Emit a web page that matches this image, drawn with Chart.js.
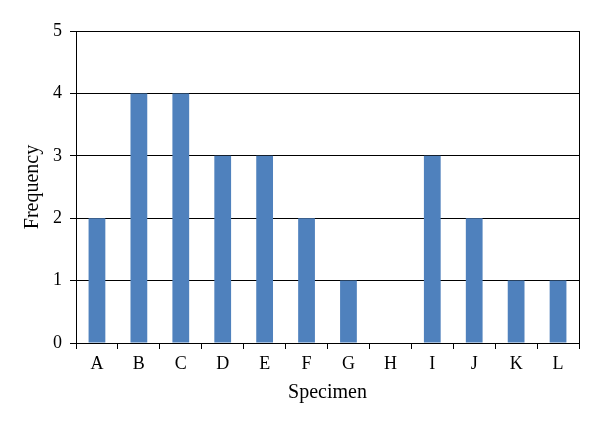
<!DOCTYPE html>
<html>
<head>
<meta charset="utf-8">
<script src="https://cdn.jsdelivr.net/npm/chart.js@4"></script>
<style>
  html, body { margin: 0; padding: 0; background: #fff; }
  #wrap { width: 600px; height: 425px; }
</style>
</head>
<body>
<div id="wrap"><canvas id="plot" width="600" height="425"></canvas></div>
<script>
const specimens = ["A", "B", "C", "D", "E", "F", "G", "H", "I", "J", "K", "L"];
const frequency = [2, 4, 4, 3, 3, 2, 1, 0, 3, 2, 1, 1];
const yTicks = [0, 1, 2, 3, 4, 5];

const serif = "'Liberation Serif', 'DejaVu Serif', serif";

// draws the right-hand frame line of the plot area
const rightBorderPlugin = {
  id: "right_border",
  afterDraw: (chart) => {
    const a = chart.chartArea;
    const ctx = chart.ctx;
    ctx.save();
    ctx.strokeStyle = "#000";
    ctx.lineWidth = 1;
    ctx.beginPath();
    ctx.moveTo(Math.round(a.right) + 0.5, a.top);
    ctx.lineTo(Math.round(a.right) + 0.5, a.bottom);
    ctx.stroke();
    ctx.restore();
  },
};

const canvas = document.getElementById("plot");
const ctx = canvas.getContext("2d");
const chart = new Chart(ctx, {
  type: "bar",
  plugins: [rightBorderPlugin],
  data: {
    labels: specimens,
    datasets: [
      {
        data: frequency,
        backgroundColor: "#4F81BD",
        barPercentage: 0.4,
        categoryPercentage: 1,
      },
    ],
  },
  options: {
    responsive: false,
    animation: false,
    devicePixelRatio: 1,
    layout: { padding: { left: 0, top: 31, right: 21, bottom: 0 } },
    plugins: {
      legend: { display: false },
      tooltip: { enabled: false },
    },
    scales: {
      x: {
        afterFit: (s) => { s.height = 82; },
        grid: { drawOnChartArea: false, color: "#000", tickLength: 6 },
        border: { color: "#000", width: 1 },
        ticks: { color: "#000", font: { family: serif, size: 18 }, padding: 4 },
        title: {
          display: true,
          text: "Specimen",
          color: "#000",
          font: { family: serif, size: 20 },
          padding: { top: 0, bottom: 20 },
        },
      },
      y: {
        min: 0,
        max: 5,
        afterFit: (s) => { s.width = 76; },
        afterBuildTicks: (s) => { s.ticks = yTicks.map((v) => ({ value: v })); },
        grid: { color: "#000", tickLength: 6 },
        border: { color: "#000", width: 1 },
        ticks: { color: "#000", font: { family: serif, size: 18 }, padding: 8 },
        title: {
          display: true,
          text: "Frequency",
          color: "#000",
          font: { family: serif, size: 20 },
          padding: { top: 21, bottom: 0 },
        },
      },
    },
  },
});
</script>
</body>
</html>
